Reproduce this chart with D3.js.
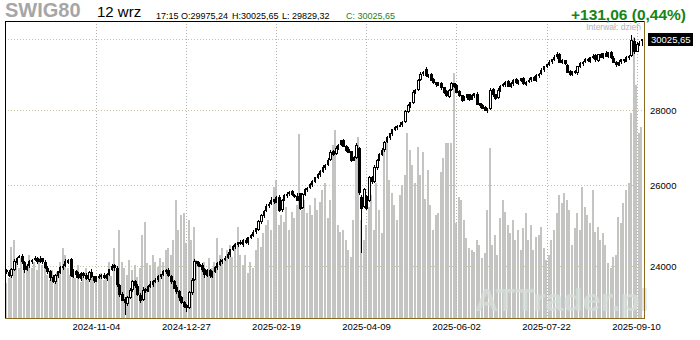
<!DOCTYPE html>
<html>
<head>
<meta charset="utf-8">
<script src="https://cdn.jsdelivr.net/npm/d3@7"></script>
<style>
  body { margin: 0; background: #fff; }
  svg { display: block; font-family: "Liberation Sans", Arial, sans-serif; }
</style>
</head>
<body>
<svg id="chart" width="700" height="340"></svg>
<script>
// sWIG80 daily candles, 13.09.2024 - 12.09.2025
const opens = [
23900,23860,23790,23930,24090,24215,24240,24090,23930,24020,
24110,24160,24190,24120,24185,24100,23950,23880,23740,23650,
23780,23860,23975,24020,24100,24160,23760,23885,23810,23720,
23835,23780,23700,23860,23760,23650,23740,23760,23790,23720,
23810,23920,24020,23950,23560,23350,23230,23140,23280,23460,
23650,23540,23330,23230,23460,23420,23530,23580,23640,23690,
23760,23810,23880,23900,23770,23640,23500,23410,23270,23160,
23090,23040,23390,23700,24110,24050,24020,23930,23790,23900,
23770,23880,23970,24050,24110,24160,24210,24280,24400,24470,
24520,24570,24530,24620,24570,24690,24740,24835,24880,25080,
25230,25350,25480,25530,25630,25570,25690,25380,25630,25730,
25780,25835,25745,25720,25780,25430,25760,25880,25935,26010,
26090,26190,26270,26350,26450,26530,26660,26870,26820,26980,
27060,27160,27020,26925,26870,26650,26710,26971,25700,25470,
25720,25600,26200,26100,26450,26660,26790,26920,27140,27245,
27350,27460,27515,27570,27595,27680,27950,28120,28200,28510,
28570,28850,29020,29150,28960,28990,28850,28760,28690,28730,
28620,28510,28380,28560,28730,28680,28510,28395,28270,28340,
28420,28300,28395,28440,28170,28115,28060,27990,28040,28560,
28420,28340,28560,28675,28700,28790,28665,28730,28845,28750,
28815,28875,28720,28790,28845,28900,28835,28960,29015,29130,
29215,29275,29360,29420,29505,29570,29350,29390,29250,29075,
29005,29070,29045,29215,29300,29360,29420,29380,29475,29535,
29410,29565,29495,29595,29525,29620,29470,29350,29265,29360,
29420,29380,29475,29540,29960,29660,29870,29975.24
];
const highs = [
23930,23915,23957,24176,24226,24270,24300,24125,24061,24146,
24183,24256,24230,24247,24210,24145,24010,23915,23790,23816,
23900,24019,24051,24176,24178,24205,23930,23920,23860,23863,
23865,23835,23887,23930,23785,23774,23813,23811,23840,23840,
23947,24066,24060,24020,23585,23395,23290,23301,23500,23676,
23680,23595,23370,23520,23485,23565,23649,23671,23732,23793,
23830,23925,23934,23970,23795,23685,23560,23445,23320,23200,
23120,23436,23722,24176,24135,24095,24080,23965,23944,23940,
23900,24019,24099,24176,24178,24246,24333,24428,24515,24554,
24592,24625,24650,24690,24708,24777,24889,24938,25125,25264,
25378,25528,25563,25694,25655,25720,25750,25659,25776,25816,
25857,25890,25785,25790,25805,25796,25938,25964,26056,26123,
26216,26319,26381,26515,26548,26699,26925,26905,27021,27091,
27188,27215,27060,26995,26895,26752,27111,27006,25750,25918,
25750,26241,26240,26515,26679,26831,26978,27166,27289,27386,
27484,27563,27602,27659,27696,27990,28171,28229,28551,28597,
28870,29066,29108,29220,29007,29035,28910,28795,28777,28770,
28650,28565,28597,28797,28755,28725,28570,28430,28383,28457,
28450,28444,28485,28510,28195,28160,28120,28063,28607,28600,
28450,28612,28710,28769,28808,28835,28787,28875,28895,28852,
28899,28930,28823,28910,28922,28945,29014,29046,29175,29252,
29300,29411,29454,29571,29645,29615,29445,29425,29300,29115,
29098,29125,29252,29369,29381,29459,29480,29507,29580,29575,
29590,29620,29629,29665,29643,29665,29530,29385,29406,29454,
29450,29527,29570,30150,30060,29926,29955,30025.65
];
const lows = [
23825,23746,23730,23895,24040,24190,24066,23852,23900,23965,
24065,24130,24069,24085,24056,23939,23830,23664,23606,23595,
23735,23830,23915,23985,24050,23751,23720,23735,23699,23665,
23731,23676,23640,23718,23609,23625,23700,23695,23699,23665,
23765,23890,23904,23531,23285,23195,22880,23075,23250,23405,
23498,23305,23160,23195,23377,23395,23490,23515,23610,23635,
23715,23780,23820,23741,23586,23471,23364,23201,23122,23028,
22947,23010,23330,23665,24009,23986,23877,23735,23760,23721,
23725,23850,23910,24015,24060,24135,24170,24215,24370,24415,
24475,24508,24470,24527,24520,24665,24700,24770,24850,25025,
25185,25320,25420,25495,25524,25545,25333,25315,25600,25675,
25735,25721,25666,25589,25373,25405,25720,25815,25905,25955,
26045,26160,26210,26315,26400,26505,26620,26747,26790,26925,
27015,26994,26858,26830,26604,26625,26670,25762,24321,25415,
25378,25570,26023,26065,26400,26635,26750,26855,27110,27190,
27305,27430,27455,27535,27545,27655,27910,28055,28170,28455,
28525,28820,28960,28919,28910,28815,28715,28634,28660,28559,
28456,28359,28320,28525,28620,28476,28349,28212,28240,28285,
28260,28270,28335,28131,28061,28030,27960,27917,28010,28362,
28288,28310,28500,28640,28650,28645,28625,28665,28725,28695,
28770,28697,28660,28755,28795,28815,28795,28895,28985,29075,
29170,29245,29300,29385,29455,29331,29310,29262,29038,28956,
28960,29010,28985,29180,29250,29335,29345,29315,29445,29359,
29365,29471,29435,29495,29475,29447,29316,29205,29235,29305,
29340,29350,29415,29505,29597,29635,29830,29829.32
];
const closes = [
23870,23776,23917,24106,24201,24225,24106,23917,24011,24106,
24153,24201,24129,24177,24106,23964,23870,23729,23636,23776,
23870,23964,24011,24106,24153,23776,23870,23800,23729,23823,
23776,23706,23847,23753,23659,23729,23753,23776,23729,23800,
23917,24011,23964,23566,23335,23220,23152,23266,23450,23636,
23543,23335,23220,23450,23427,23520,23589,23636,23682,23753,
23800,23870,23894,23776,23636,23496,23404,23266,23152,23083,
23038,23381,23682,24106,24059,24011,23917,23800,23894,23776,
23870,23964,24059,24106,24153,24201,24273,24393,24465,24514,
24562,24538,24610,24562,24683,24732,24829,24903,25075,25224,
25348,25473,25523,25624,25574,25675,25373,25624,25726,25776,
25827,25751,25726,25624,25423,25751,25878,25929,26006,26083,
26186,26264,26341,26445,26523,26654,26865,26812,26971,27051,
27158,27024,26918,26865,26654,26707,27051,25827,25423,25878,
25423,26186,26083,26445,26654,26786,26918,27131,27239,27346,
27454,27508,27562,27589,27671,27945,28111,28194,28501,28557,
28840,29011,29068,28954,28982,28840,28755,28699,28727,28614,
28501,28389,28557,28727,28670,28501,28389,28277,28333,28417,
28305,28389,28445,28166,28111,28055,28000,28028,28557,28417,
28333,28557,28670,28699,28783,28670,28727,28840,28755,28812,
28869,28727,28783,28840,28897,28840,28954,29011,29125,29212,
29270,29356,29414,29501,29560,29356,29385,29327,29068,29011,
29068,29040,29212,29299,29356,29414,29385,29472,29530,29414,
29560,29501,29589,29530,29618,29472,29356,29270,29356,29414,
29385,29472,29530,29999,29647,29881,29894.59,30025.65
];
const volumes = [
35,40,71,78,56,50,60,48,53,63,
50,56,48,60,53,50,43,38,48,35,
46,56,70,63,50,43,48,40,53,36,
43,50,38,46,41,35,40,45,38,43,
56,42,70,46,88,56,50,43,58,48,
53,41,50,83,96,55,53,63,56,51,
60,56,68,70,63,78,118,88,103,105,
75,98,78,91,58,53,48,56,43,60,
50,56,80,63,70,58,68,73,61,75,
91,63,53,63,45,56,50,68,80,71,
85,93,98,88,131,138,93,103,96,111,
88,106,100,113,184,108,118,105,113,103,
120,108,116,128,135,100,118,173,188,93,
86,88,78,68,61,98,171,181,98,78,
93,111,123,88,135,108,85,168,178,138,
125,113,98,123,133,143,185,168,153,135,
171,143,166,119,148,113,88,103,105,146,
160,175,175,175,245,95,121,118,98,80,
70,68,66,78,73,60,65,108,170,73,
83,63,100,118,106,93,85,98,78,88,
68,90,105,78,93,68,81,83,91,70,
58,63,78,88,105,123,115,125,118,108,
73,90,105,88,131,111,103,95,128,86,
91,78,85,73,55,50,61,63,101,95,
115,128,135,205,281,233,185,191
];

const dateTickIndex = [35, 70, 105, 140, 175, 210, 245];
const dateTickLabels = ["2024-11-04", "2024-12-27", "2025-02-19", "2025-04-09", "2025-06-02", "2025-07-22", "2025-09-10"];
const priceTicks = [24000, 26000, 28000];
const priceDomain = [22812, 30536];
const volumeDomain = [0, 300];

const lastPrice = closes[closes.length - 1];
const prevClose = closes[closes.length - 2];

const fmtPl = (v, d) => v.toFixed(d).replace(".", ",");

const svg = d3.select("#chart");
const pL = 5, pR = 644, pT = 21, pB = 318;

const x = d3.scaleBand().domain(d3.range(closes.length)).range([pL, pR - 1]).paddingInner(0).paddingOuter(0);
const y = d3.scaleLog().domain(priceDomain).range([pB, 22]);
const yv = d3.scaleLinear().domain(volumeDomain).range([pB, 18]);
const cx = i => x(i) + x.bandwidth() / 2;

// volume bars
svg.append("g").attr("shape-rendering", "crispEdges")
  .selectAll("rect").data(volumes).join("rect")
  .attr("x", (d, i) => Math.round(x(i)))
  .attr("width", 2)
  .attr("y", d => Math.round(yv(d)))
  .attr("height", d => pB - Math.round(yv(d)))
  .attr("fill", "#c4c4c2");

// grid
const grid = svg.append("g").attr("shape-rendering", "crispEdges");
grid.selectAll("line.h").data(priceTicks.concat([lastPrice])).join("line")
  .attr("class", "h")
  .attr("x1", pL).attr("x2", pR)
  .attr("y1", d => Math.round(y(d)) + 0.5).attr("y2", d => Math.round(y(d)) + 0.5)
  .attr("stroke", "#cbc3a8").attr("stroke-dasharray", "1,2");
grid.selectAll("line.v").data(dateTickIndex).join("line")
  .attr("class", "v")
  .attr("x1", d => Math.round(cx(d)) + 0.5).attr("x2", d => Math.round(cx(d)) + 0.5)
  .attr("y1", pT).attr("y2", pB)
  .attr("stroke", "#b2b2b2").attr("stroke-dasharray", "1,2");

// candles: wicks, then bodies (up = hollow, down = filled)
const candles = svg.append("g").attr("shape-rendering", "crispEdges");
const idx = d3.range(closes.length);
const isUp = i => closes[i] >= opens[i];
const bodyH = i => Math.abs(y(opens[i]) - y(closes[i]));
candles.selectAll("line").data(idx).join("line")
  .attr("x1", i => Math.round(cx(i)) + 0.5).attr("x2", i => Math.round(cx(i)) + 0.5)
  .attr("y1", i => y(highs[i])).attr("y2", i => y(lows[i]))
  .attr("stroke", "#000").attr("stroke-width", 1);
candles.selectAll("rect").data(idx).join("rect")
  .attr("x", i => Math.round(cx(i)) - 0.5)
  .attr("width", i => (isUp(i) && bodyH(i) < 5) ? 1 : 2)
  .attr("y", i => y(Math.max(opens[i], closes[i])))
  .attr("height", i => Math.max(1, bodyH(i)))
  .attr("fill", i => isUp(i) ? "#fff" : "#000")
  .attr("stroke", "#000").attr("stroke-width", 1);

// watermark
svg.append("text").attr("x", 475).attr("y", 311)
  .attr("font-size", 32).attr("font-weight", "bold")
  .attr("fill", "#d6e0da").attr("fill-opacity", 0.8)
  .text("ATTrader.pl");

// frame
svg.append("line").attr("x1", pL).attr("x2", pR).attr("y1", pT + 0.5).attr("y2", pT + 0.5).attr("stroke", "#000");
svg.append("line").attr("x1", pL + 0.5).attr("x2", pL + 0.5).attr("y1", pT).attr("y2", pB).attr("stroke", "#000");
svg.append("line").attr("x1", pR + 0.5).attr("x2", pR + 0.5).attr("y1", pT).attr("y2", pB + 1).attr("stroke", "#8a6a20");
svg.append("line").attr("x1", pL).attr("x2", pR + 1).attr("y1", pB + 0.5).attr("y2", pB + 0.5).attr("stroke", "#8a6a20");

// axes
const xAxis = d3.axisBottom(x).tickValues(dateTickIndex)
  .tickFormat((d, k) => dateTickLabels[k]).tickSize(0).tickPadding(5);
const gx = svg.append("g").attr("transform", `translate(0,${pB})`).call(xAxis);
gx.select(".domain").remove();
gx.selectAll("text").attr("font-size", 9.5).attr("font-family", "Liberation Sans, Arial, sans-serif").attr("fill", "#000");

const yAxis = d3.axisRight(y).tickValues(priceTicks).tickFormat(d3.format("d")).tickSize(0).tickPadding(6);
const gy = svg.append("g").attr("transform", `translate(${pR},0)`).call(yAxis);
gy.select(".domain").remove();
gy.selectAll("text").attr("font-size", 9.5).attr("font-family", "Liberation Sans, Arial, sans-serif").attr("fill", "#000");

// last price box
const ly = y(lastPrice);
svg.append("rect").attr("x", 648).attr("y", Math.round(ly) - 6).attr("width", 45).attr("height", 13).attr("fill", "#000");
svg.append("text").attr("x", 651).attr("y", Math.round(ly) + 4).attr("font-size", 9.5).attr("fill", "#fff")
  .text(fmtPl(lastPrice, 2));

// interval note
svg.append("text").attr("x", 641).attr("y", 30).attr("text-anchor", "end")
  .attr("font-size", 8.5).attr("fill", "#b4b4b4").text("Interwał: dzień");

// header
svg.append("text").attr("x", 5).attr("y", 17).attr("font-size", 20).attr("font-weight", "bold")
  .attr("fill", "#a6a6a6").text("SWIG80");
svg.append("text").attr("x", 97).attr("y", 17).attr("font-size", 15).attr("fill", "#000").text("12 wrz");
const info = [
  { x: 156, t: "17:15", c: "#000" },
  { x: 181, t: "O:" + fmtPl(opens[opens.length - 1], 2), c: "#000" },
  { x: 232, t: "H:" + fmtPl(highs[highs.length - 1], 2), c: "#000" },
  { x: 282, t: "L: " + fmtPl(lows[lows.length - 1], 2), c: "#000" },
  { x: 346, t: "C: " + fmtPl(lastPrice, 2), c: "#1e7e1e" }
];
svg.selectAll("text.info").data(info).join("text").attr("class", "info")
  .attr("x", d => d.x).attr("y", 19).attr("font-size", 9).attr("fill", d => d.c).text(d => d.t);

const change = lastPrice - prevClose;
const pct = change / prevClose * 100;
svg.append("text").attr("x", 686).attr("y", 20).attr("text-anchor", "end")
  .attr("font-size", 15.5).attr("font-weight", "bold").attr("fill", "#158515")
  .attr("xml:space", "preserve")
  .text(`${change >= 0 ? "+" : ""}${fmtPl(change, 2)} (${fmtPl(pct, 2)}%)`);
</script>
</body>
</html>
